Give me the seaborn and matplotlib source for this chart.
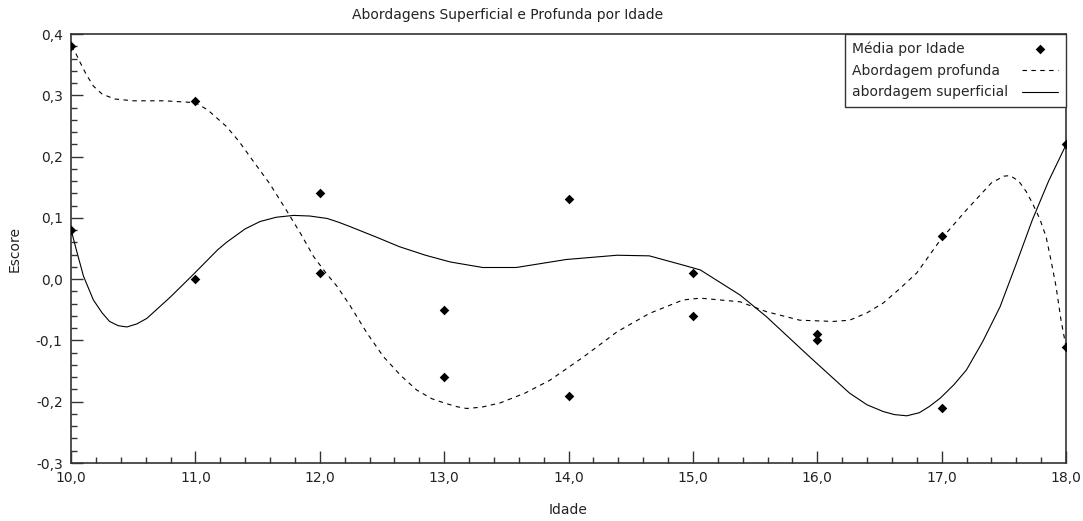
import numpy as np
import pandas as pd
import seaborn as sns
import matplotlib.pyplot as plt
from matplotlib.ticker import MultipleLocator, FuncFormatter
from matplotlib.transforms import Bbox

# medias por idade (pontos)
idades_pts = [10, 10, 11, 11, 12, 12, 13, 13, 14, 14, 15, 15, 16, 16, 17, 17, 18, 18]
medias = [0.38, 0.08, 0.29, 0.00, 0.14, 0.01, -0.05, -0.16, 0.13, -0.19,
          0.01, -0.06, -0.09, -0.10, 0.07, -0.21, 0.22, -0.11]

# curva abordagem profunda
x_prof = [10.00, 10.03, 10.07, 10.12, 10.18, 10.25, 10.35, 10.50, 10.75, 11.00,
          11.10, 11.25, 11.35, 11.46, 11.60, 11.73, 11.85, 11.95, 12.05, 12.14,
          12.24, 12.38, 12.51, 12.65, 12.78, 12.90, 13.00, 13.10, 13.18, 13.30,
          13.45, 13.65, 13.85, 14.12, 14.39, 14.65, 14.92, 15.06, 15.38, 15.59,
          15.86, 16.13, 16.26, 16.40, 16.53, 16.65, 16.80, 16.99, 17.20, 17.30,
          17.40, 17.50, 17.55, 17.62, 17.68, 17.73, 17.79, 17.84, 17.88, 17.92,
          17.96, 18.00]
y_prof = [0.380, 0.372, 0.355, 0.335, 0.315, 0.302, 0.294, 0.291, 0.291, 0.288,
          0.276, 0.249, 0.225, 0.194, 0.155, 0.113, 0.073, 0.037, 0.010, -0.012,
          -0.042, -0.088, -0.126, -0.157, -0.181, -0.195, -0.202, -0.208, -0.211, -0.209,
          -0.202, -0.186, -0.165, -0.127, -0.086, -0.056, -0.034, -0.031, -0.037, -0.053,
          -0.067, -0.069, -0.067, -0.055, -0.039, -0.018, 0.010, 0.064, 0.113, 0.135,
          0.157, 0.168, 0.169, 0.160, 0.143, 0.124, 0.098, 0.069, 0.030, -0.012,
          -0.067, -0.110]

# curva abordagem superficial
x_sup = [10.00, 10.04, 10.10, 10.18, 10.25, 10.31, 10.38, 10.45, 10.53, 10.61,
         10.80, 10.98, 11.18, 11.25, 11.40, 11.52, 11.65, 11.79, 11.92, 12.06,
         12.15, 12.24, 12.45, 12.64, 12.85, 13.05, 13.31, 13.58, 13.98, 14.39,
         14.65, 14.92, 15.06, 15.38, 15.59, 15.94, 16.26, 16.40, 16.53, 16.62,
         16.72, 16.82, 16.90, 16.99, 17.10, 17.20, 17.33, 17.47, 17.60, 17.73,
         17.86, 18.00]
y_sup = [0.081, 0.050, 0.005, -0.034, -0.055, -0.069, -0.076, -0.078, -0.073, -0.064,
         -0.029, 0.007, 0.048, 0.060, 0.082, 0.094, 0.101, 0.104, 0.103, 0.099,
         0.093, 0.086, 0.069, 0.053, 0.039, 0.028, 0.019, 0.019, 0.032, 0.039,
         0.038, 0.023, 0.015, -0.026, -0.061, -0.127, -0.186, -0.205, -0.216, -0.221,
         -0.223, -0.218, -0.208, -0.194, -0.172, -0.148, -0.102, -0.045, 0.025, 0.097,
         0.160, 0.219]

sns.set_style("white")
plt.rcParams['font.family'] = ['DejaVu Sans']

fig = plt.figure(figsize=(10.83, 5.21), dpi=100)
ax = fig.add_axes([71/1083, 1-463/521, 995/1083, 429/521])

sns.scatterplot(x=idades_pts, y=medias, marker='D', s=24, color='black',
                edgecolor='black', linewidth=0, label='Média por Idade', ax=ax, zorder=3)
sns.lineplot(x=x_prof, y=y_prof, color='black', lw=0.8, linestyle=(0, (4, 4)),
             label='Abordagem profunda', ax=ax)
sns.lineplot(x=x_sup, y=y_sup, color='black', lw=0.8,
             label='abordagem superficial', ax=ax)

ax.set_xlim(10, 18)
ax.set_ylim(-0.3, 0.4)
ax.xaxis.set_major_locator(MultipleLocator(1))
ax.xaxis.set_minor_locator(MultipleLocator(0.2))
ax.yaxis.set_major_locator(MultipleLocator(0.1))
ax.yaxis.set_minor_locator(MultipleLocator(0.02))
virg = FuncFormatter(lambda v, p: f"{v:.1f}".replace('.', ',').replace('-0,0', '0,0'))
ax.xaxis.set_major_formatter(virg)
ax.yaxis.set_major_formatter(virg)
ax.tick_params(which='major', direction='in', length=8.5, width=1, color='#333333',
               labelsize=10, labelcolor='#222222', pad=6, bottom=True, left=True)
ax.tick_params(which='minor', direction='in', length=4.3, width=1, color='#333333',
               bottom=True, left=True)

for s in ax.spines.values():
    s.set_color('#333333')
    s.set_linewidth(1.2)

ax.set_xlabel('Idade', fontsize=10, labelpad=13, color='#222222')
ax.set_ylabel('Escore', fontsize=10, labelpad=10, color='#222222')
fig.text(508/1083, 1-15/521, 'Abordagens Superficial e Profunda por Idade',
         ha='center', va='center', fontsize=10, color='#222222')

leg = ax.legend(loc='upper right', bbox_to_anchor=(1, 1), borderaxespad=0,
                fancybox=False, framealpha=1, edgecolor='#333333', fontsize=10,
                markerfirst=False, handlelength=2.6, labelspacing=0.55,
                handletextpad=1.0, borderpad=0.55)
leg.get_frame().set_linewidth(1)

# texto da legenda alinhado a esquerda (marcadores a direita)
fig.canvas.draw()
rend = fig.canvas.get_renderer()
linhas = [r for col in leg._legend_handle_box.get_children() for r in col.get_children()]
caixas = [r.get_children()[0] for r in linhas]
wmax = max(c.get_bbox(rend).width for c in caixas)
for c in caixas:
    orig = c.get_bbox
    def nova(renderer, orig=orig):
        bb = orig(renderer)
        return Bbox.from_bounds(bb.x0, bb.y0, wmax, bb.height)
    c.get_bbox = nova

fig.savefig('out.png', dpi=100)
